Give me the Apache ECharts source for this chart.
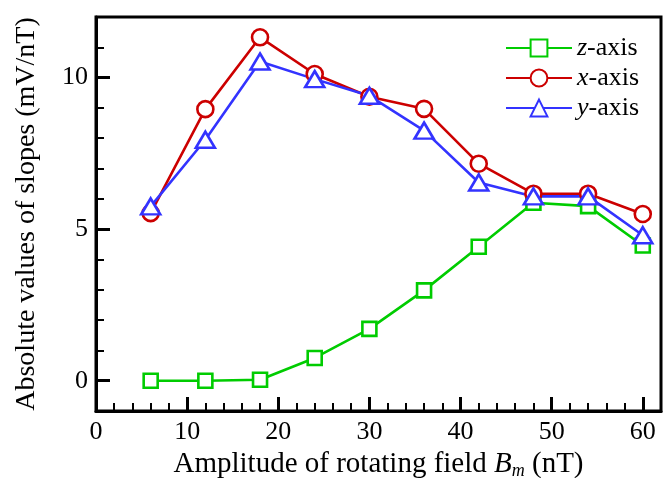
<!DOCTYPE html>
<html>
    <head>
        <meta charset="utf-8">
        <title>slopes</title>
        <script type="text/javascript" src="https://cdn.jsdelivr.net/npm/echarts@6/dist/echarts.min.js"></script>
        <style>
            body {margin: 0; background: #fff;}
            #main {width: 671px; height: 478px;}
        </style>
    </head>
    <body>
        <div id="main"></div>
        <script type="text/javascript">
            // amplitude of rotating field Bm (nT)
            var fieldValues = [6, 12, 18, 24, 30, 36, 42, 48, 54, 60];
            var zSlopes = [0, 0, 0.03, 0.75, 1.71, 2.98, 4.42, 5.87, 5.76, 4.46];
            var xSlopes = [5.53, 8.96, 11.33, 10.12, 9.37, 8.97, 7.16, 6.17, 6.17, 5.5];
            var ySlopes = [5.75, 7.95, 10.53, 9.95, 9.4, 8.25, 6.54, 6.08, 6.08, 4.8];
            var xTickValues = [0, 10, 20, 30, 40, 50, 60];
            var yTickValues = [0, 5, 10];
            var xMinorValues = [2, 4, 6, 8, 12, 14, 16, 18, 22, 24, 26, 28, 32, 34, 36, 38, 42, 44, 46, 48, 52, 54, 56, 58];
            var yMinorValues = [1, 2, 3, 4, 6, 7, 8, 9, 11];

            var font = 'Liberation Serif';
            var green = '#00cc00', red = '#cc0000', blue = '#3333ff';

            function pairs(vals) {
                var out = [];
                for (var i = 0; i < fieldValues.length; i++) {
                    out.push([fieldValues[i], vals[i]]);
                }
                return out;
            }

            function lineSeries(name, vals, color, symbol, size) {
                return {
                    name: name,
                    type: 'line',
                    xAxisIndex: 0,
                    yAxisIndex: 0,
                    data: pairs(vals),
                    symbol: symbol,
                    symbolSize: size,
                    lineStyle: {color: color, width: 2.6},
                    itemStyle: {color: '#fff', borderColor: color, borderWidth: 2.6},
                    emphasis: {disabled: true},
                    animation: false
                };
            }

            var myChart = echarts.init(document.getElementById('main'));

            var option = {
                backgroundColor: '#fff',
                textStyle: {fontFamily: font, color: '#000'},
                grid: {
                    left: 96, right: 10, top: 17, bottom: 67,
                    outerBoundsMode: 'none',
                    show: true, borderColor: '#000', borderWidth: 3
                },
                legend: {
                    orient: 'vertical',
                    left: 500,
                    top: 28,
                    itemWidth: 66,
                    itemHeight: 21,
                    itemGap: 0,
                    textStyle: {
                        fontFamily: font, fontSize: 26, color: '#000', lineHeight: 30,
                        rich: {i: {fontFamily: font, fontSize: 26, fontStyle: 'italic', lineHeight: 30}}
                    },
                    formatter: function (name) {
                        return '{i|' + name.charAt(0) + '}' + name.slice(1);
                    },
                    data: ['z-axis', 'x-axis', 'y-axis']
                },
                xAxis: [
                    {
                        type: 'value', min: 0, max: 62,
                        name: '{t|Amplitude of rotating field }{b|B}{s|m}{t| (nT)}',
                        nameLocation: 'middle', nameGap: 33,
                        nameTextStyle: {
                            rich: {
                                t: {fontFamily: font, fontSize: 29, color: '#000'},
                                b: {fontFamily: font, fontSize: 29, fontStyle: 'italic', color: '#000'},
                                s: {fontFamily: font, fontSize: 18, fontStyle: 'italic', color: '#000', padding: [14, 0, 0, 0]}
                            }
                        },
                        axisLine: {onZero: false, lineStyle: {color: '#000', width: 3}},
                        axisTick: {inside: true, length: 14, customValues: xTickValues, lineStyle: {color: '#000', width: 3}},
                        axisLabel: {customValues: xTickValues, fontFamily: font, fontSize: 26, color: '#000', margin: 8},
                        splitLine: {show: false}
                    },
                    {
                        type: 'value', min: 0, max: 62, position: 'bottom',
                        axisLine: {show: false, onZero: false},
                        axisTick: {show: true, inside: true, length: 8, customValues: xMinorValues, lineStyle: {color: '#000', width: 2}},
                        axisLabel: {show: false},
                        splitLine: {show: false}
                    }
                ],
                yAxis: [
                    {
                        type: 'value', min: -1, max: 12,
                        name: 'Absolute values of slopes (mV/nT)',
                        nameLocation: 'middle', nameGap: 55,
                        nameTextStyle: {fontFamily: font, fontSize: 28, color: '#000'},
                        axisLine: {onZero: false, lineStyle: {color: '#000', width: 3}},
                        axisTick: {inside: true, length: 14, customValues: yTickValues, lineStyle: {color: '#000', width: 3}},
                        axisLabel: {customValues: yTickValues, fontFamily: font, fontSize: 26, color: '#000', margin: 8},
                        splitLine: {show: false}
                    },
                    {
                        type: 'value', min: -1, max: 12, position: 'left',
                        axisLine: {show: false, onZero: false},
                        axisTick: {show: true, inside: true, length: 8, customValues: yMinorValues, lineStyle: {color: '#000', width: 2}},
                        axisLabel: {show: false},
                        splitLine: {show: false}
                    }
                ],
                series: [
                    lineSeries('z-axis', zSlopes, green, 'rect', 14),
                    lineSeries('x-axis', xSlopes, red, 'circle', 16),
                    lineSeries('y-axis', ySlopes, blue, 'triangle', [19, 16])
                ]
            };

            myChart.setOption(option);
        </script>
    </body>
</html>
